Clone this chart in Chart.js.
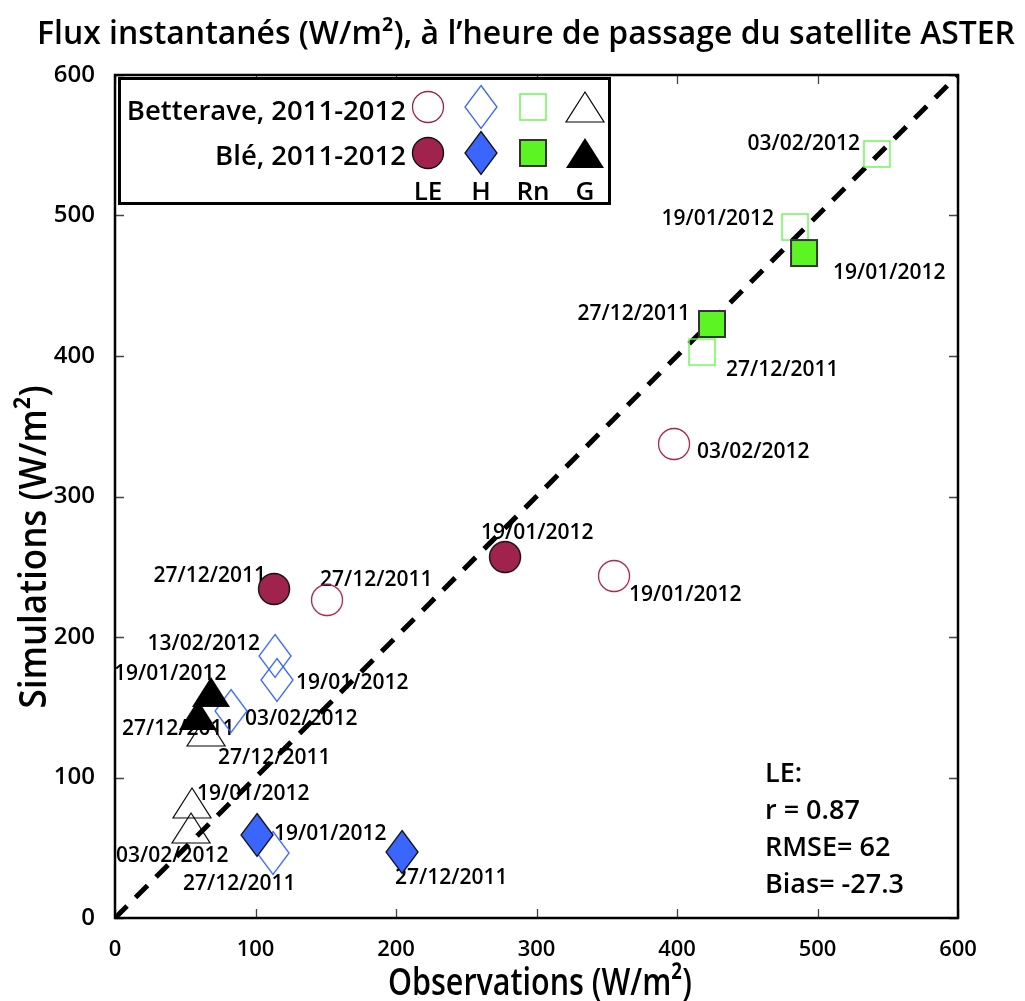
<!DOCTYPE html>
<html><head><meta charset="utf-8">
<script src="https://cdn.jsdelivr.net/npm/chart.js@4/dist/chart.umd.min.js"></script>
<style>html,body{margin:0;padding:0;background:#fff}canvas{display:block}</style>
</head><body>
<canvas id="c" width="1025" height="1001"></canvas>
<script>
// ---------------- DATA ----------------
const chartTitle = 'Flux instantanés (W/m²), à l’heure de passage du satellite ASTER';
const xTitle = 'Observations (W/m²)';
const yTitle = 'Simulations (W/m²)';
const xTicks = [0, 100, 200, 300, 400, 500, 600];
const yTicks = [0, 100, 200, 300, 400, 500, 600];
const fluxNames = ['LE', 'H', 'Rn', 'G'];
const siteNames = ['Betterave, 2011-2012', 'Blé, 2011-2012'];
const statsLines = ['LE:', 'r = 0.87', 'RMSE= 62', 'Bias= -27.3'];
const oneToOne = [0, 600];

// LE
const leBettObs = [150.9, 397.9, 355.2];
const leBettSim = [226.3, 337.4, 243.4];
const leBettDates = ['27/12/2011', '03/02/2012', '19/01/2012'];
const leBleObs = [113.2, 277.6];
const leBleSim = [234.2, 256.9];
const leBleDates = ['27/12/2011', '19/01/2012'];
// H
const hBettObs = [113.9, 115.3, 82.6, 112.5];
const hBettSim = [186.5, 169.4, 147.3, 46.3];
const hBettDates = ['13/02/2012', '19/01/2012', '03/02/2012', '27/12/2011'];
const hBleObs = [101.1, 204.3];
const hBleSim = [59.1, 47.0];
const hBleDates = ['19/01/2012', '27/12/2011'];
// Rn
const rnBettObs = [542.3, 484.0, 417.8];
const rnBettSim = [543.8, 491.8, 402.8];
const rnBettDates = ['03/02/2012', '19/01/2012', '27/12/2011'];
const rnBleObs = [490.4, 424.9];
const rnBleSim = [473.3, 422.8];
const rnBleDates = ['19/01/2012', '27/12/2011'];
// G
const gBettObs = [54.8, 54.1, 64.8];
const gBettSim = [81.9, 64.1, 133.1];
const gBettDates = ['19/01/2012', '03/02/2012', '27/12/2011'];
const gBleObs = [68.3, 59.1];
const gBleSim = [160.9, 144.5];
const gBleDates = ['19/01/2012', '27/12/2011'];

// ---------------- STYLE ----------------
const MAROON = '#A0234E', BLUE = '#3A66FF', GREEN = '#5CF523', LGREEN = '#72F55A';
const FONT = '"Open Sans", "Noto Sans", sans-serif';

function mk(w, h, draw) { const c = document.createElement('canvas'); c.width = w; c.height = h; draw(c.getContext('2d')); return c; }
function circ(g){ g.beginPath(); g.arc(18, 18, 15.5, 0, Math.PI * 2); }
function diam(g){ g.beginPath(); g.moveTo(18, 1.5); g.lineTo(34, 23); g.lineTo(18, 44.5); g.lineTo(2, 23); g.closePath(); }
function tri(g){ g.beginPath(); g.moveTo(21, 2); g.lineTo(40, 32); g.lineTo(2, 32); g.closePath(); }
const M = {
  oc: mk(36, 36, g => { circ(g); g.strokeStyle = MAROON; g.lineWidth = 1.3; g.stroke(); }),
  fc: mk(36, 36, g => { circ(g); g.fillStyle = MAROON; g.fill(); g.strokeStyle = '#111'; g.lineWidth = 1.4; g.stroke(); }),
  od: mk(36, 46, g => { diam(g); g.strokeStyle = BLUE; g.lineWidth = 1.3; g.stroke(); }),
  fd: mk(36, 46, g => { diam(g); g.fillStyle = BLUE; g.fill(); g.strokeStyle = '#111'; g.lineWidth = 1.3; g.stroke(); }),
  os: mk(30, 30, g => { g.strokeStyle = LGREEN; g.lineWidth = 1.5; g.strokeRect(2, 2, 26, 26); }),
  fs: mk(30, 30, g => { g.fillStyle = GREEN; g.fillRect(2, 2, 26, 26); g.strokeStyle = '#333'; g.lineWidth = 2; g.strokeRect(2, 2, 26, 26); }),
  ot: mk(42, 34, g => { tri(g); g.strokeStyle = '#000'; g.lineWidth = 1.2; g.stroke(); }),
  ft: mk(42, 34, g => { tri(g); g.fillStyle = '#000'; g.fill(); })
};

// label offsets (pixels): [dx, dy, align]
const labelOffsets = {
  leBett: [[-7, -22, 'left'], [23, 7, 'left'], [15, 17, 'left']],
  leBle: [[-8, -14, 'right'], [-24, -26, 'left']],
  hBett: [[-15, -13, 'right'], [19, 2, 'left'], [14, 6, 'left'], [-90, 30, 'left']],
  hBle: [[17, -2, 'left'], [-7, 25, 'left']],
  rnBett: [[-17, -11, 'right'], [-21, -10, 'right'], [24, 16, 'left']],
  rnBle: [[29, 18, 'left'], [-22, -11, 'right']],
  gBett: [[5, -10, 'left'], [-75, 27, 'left'], [12, 26, 'left']],
  gBle: [[-97, -19, 'left'], [-76, 13, 'left']]
};

function pts(xs, ys) { return xs.map((x, i) => ({ x: x, y: ys[i] })); }
function sc(id, xs, ys, dates, style, order) {
  return { id: id, type: 'scatter', data: pts(xs, ys), dates: dates, pointStyle: style, pointRadius: 16, order: order, showLine: false };
}

const datasets = [
  { id: 'line', type: 'line', data: pts(oneToOne, oneToOne), borderColor: '#000', borderWidth: 5, borderDash: [17, 12], pointRadius: 0, order: 5, fill: false },
  sc('rnBett', rnBettObs, rnBettSim, rnBettDates, M.os, 3),
  sc('leBett', leBettObs, leBettSim, leBettDates, M.oc, 3),
  sc('hBett', hBettObs, hBettSim, hBettDates, M.od, 3),
  sc('gBett', gBettObs, gBettSim, gBettDates, M.ot, 3),
  sc('rnBle', rnBleObs, rnBleSim, rnBleDates, M.fs, 1),
  sc('leBle', leBleObs, leBleSim, leBleDates, M.fc, 1),
  sc('hBle', hBleObs, hBleSim, hBleDates, M.fd, 1),
  sc('gBle', gBleObs, gBleSim, gBleDates, M.ft, 1)
];

function fitText(ctx, text, x, y, targetW, font, align) {
  ctx.save();
  ctx.font = font;
  const w = ctx.measureText(text).width;
  const s = targetW / w;
  ctx.translate(x, y);
  ctx.scale(s, 1);
  ctx.textAlign = align || 'center';
  ctx.fillText(text, 0, 0);
  ctx.restore();
}

const decor = {
  id: 'decor',
  beforeDatasetsDraw(chart) {
    const ctx = chart.ctx;
    ctx.save();
    ctx.fillStyle = '#000';
    ctx.font = '600 21px ' + FONT;
    ctx.textBaseline = 'alphabetic';
    chart.data.datasets.forEach((ds, di) => {
      if (!ds.dates) return;
      const meta = chart.getDatasetMeta(di);
      const offs = labelOffsets[ds.id];
      ds.dates.forEach((d, i) => {
        const el = meta.data[i];
        const o = offs[i];
        ctx.textAlign = o[2];
        ctx.fillText(d, el.x + o[0], el.y + o[1] + 7.5);
      });
    });
    ctx.restore();
  },
  afterDraw(chart) {
    const ctx = chart.ctx;
    const a = chart.chartArea;
    const xs = chart.scales.x, ys = chart.scales.y;
    ctx.save();
    // ticks (inward on all four sides)
    ctx.strokeStyle = '#444';
    ctx.lineWidth = 1.3;
    ctx.beginPath();
    xTicks.forEach(v => {
      const px = Math.round(xs.getPixelForValue(v)) + 0.5;
      ctx.moveTo(px, a.bottom); ctx.lineTo(px, a.bottom - 9);
      ctx.moveTo(px, a.top); ctx.lineTo(px, a.top + 9);
    });
    yTicks.forEach(v => {
      const py = Math.round(ys.getPixelForValue(v)) + 0.5;
      ctx.moveTo(a.left, py); ctx.lineTo(a.left + 9, py);
      ctx.moveTo(a.right, py); ctx.lineTo(a.right - 9, py);
    });
    ctx.stroke();
    // frame
    ctx.strokeStyle = '#000';
    ctx.lineWidth = 2.5;
    ctx.strokeRect(a.left, a.top, a.right - a.left, a.bottom - a.top);

    // legend box
    ctx.fillStyle = '#fff';
    ctx.fillRect(119, 78, 491, 126);
    ctx.lineWidth = 3;
    ctx.strokeStyle = '#000';
    ctx.strokeRect(119.5, 78.5, 490, 125);
    ctx.fillStyle = '#000';
    ctx.font = '600 27.5px ' + FONT;
    ctx.textAlign = 'right';
    ctx.textBaseline = 'alphabetic';
    ctx.fillText(siteNames[0], 406, 120);
    ctx.fillText(siteNames[1], 406, 165);
    const lx = [428, 481, 533, 585];
    const openM = [M.oc, M.od, M.os, M.ot], fillM = [M.fc, M.fd, M.fs, M.ft];
    lx.forEach((x, i) => {
      ctx.drawImage(openM[i], Math.round(x - openM[i].width / 2), Math.round(107 - openM[i].height / 2));
      ctx.drawImage(fillM[i], Math.round(x - fillM[i].width / 2), Math.round(153 - fillM[i].height / 2));
    });
    ctx.font = '600 26px ' + FONT;
    ctx.textAlign = 'center';
    fluxNames.forEach((n, i) => ctx.fillText(n, lx[i], 200));

    // stats
    ctx.font = '600 27px ' + FONT;
    ctx.textAlign = 'left';
    statsLines.forEach((t, i) => ctx.fillText(t, 765, 782 + i * 37));

    // titles
    ctx.fillStyle = '#000';
    fitText(ctx, chartTitle, 526, 44, 978, '600 32px ' + FONT, 'center');
    fitText(ctx, xTitle, 540, 995, 304, '600 38px ' + FONT, 'center');
    ctx.save();
    ctx.translate(46, 547);
    ctx.rotate(-Math.PI / 2);
    fitText(ctx, yTitle, 0, 0, 323, '600 38px ' + FONT, 'center');
    ctx.restore();
    ctx.restore();
  }
};

new Chart(document.getElementById('c'), {
  data: { datasets: datasets },
  options: {
    responsive: false,
    devicePixelRatio: 1,
    animation: false,
    events: [],
    layout: { padding: { top: 75, right: 67, left: 0, bottom: 0 } },
    plugins: { legend: { display: false }, tooltip: { enabled: false }, title: { display: false } },
    scales: {
      x: {
        type: 'linear', min: 0, max: 600,
        afterFit: s => { s.height = 83; },
        afterBuildTicks: s => { s.ticks = xTicks.map(v => ({ value: v })); },
        grid: { display: false }, border: { display: false },
        ticks: { color: '#000', padding: 11, font: { family: FONT, size: 22, weight: '600' } }
      },
      y: {
        type: 'linear', min: 0, max: 600,
        afterFit: s => { s.width = 115; },
        afterBuildTicks: s => { s.ticks = yTicks.map(v => ({ value: v })); },
        grid: { display: false }, border: { display: false },
        ticks: { color: '#000', padding: 12, font: { family: FONT, size: 24, weight: '600' } }
      }
    }
  },
  plugins: [decor]
});
</script>
</body></html>
